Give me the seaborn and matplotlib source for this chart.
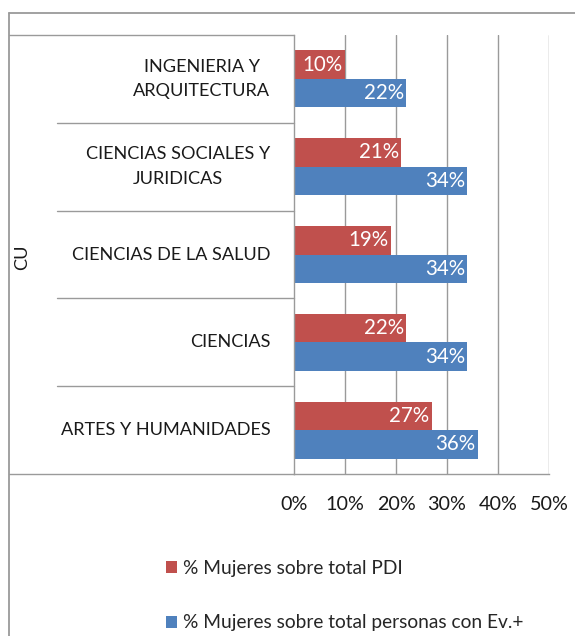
import matplotlib
matplotlib.use("Agg")
import matplotlib.pyplot as plt
import matplotlib.transforms as mtransforms
from matplotlib.patches import Patch
from matplotlib.lines import Line2D
import seaborn as sns
import pandas as pd

# Data
categories = [
    "INGENIERIA Y\nARQUITECTURA",
    "CIENCIAS SOCIALES Y\nJURIDICAS",
    "CIENCIAS DE LA SALUD",
    "CIENCIAS",
    "ARTES Y HUMANIDADES",
]
series_names = ["% Mujeres sobre total PDI", "% Mujeres sobre total personas con Ev.+"]
pct_pdi = [10, 21, 19, 22, 27]
pct_ev = [22, 34, 34, 34, 36]
x_ticks = [0, 10, 20, 30, 40, 50]
axis_title = "CU"

colors = ["#C0504D", "#4F81BD"]
grid_col = "#9A9A9A"
text_col = "#1a1a1a"
fs_cat = 13.1
fs_val = 14.8
fs_tick = 14.2
fs_leg = 13.8

df = pd.DataFrame({
    "cat": categories * 2,
    "serie": [series_names[0]] * len(categories) + [series_names[1]] * len(categories),
    "val": pct_pdi + pct_ev,
})

sns.set_theme(style="white")
plt.rcParams["font.family"] = ["Lato", "DejaVu Sans"]

W, H = 575, 636
fig = plt.figure(figsize=(W / 100, H / 100), dpi=100)
fig.patch.set_facecolor("white")

# plot area in pixel coordinates
x0, x1, y0, y1 = 294, 549, 35, 474
ax = fig.add_axes([x0 / W, 1 - y1 / H, (x1 - x0) / W, (y1 - y0) / H])

sns.barplot(data=df, y="cat", x="val", hue="serie", order=categories,
            hue_order=series_names, palette=colors, width=0.65,
            saturation=1, orient="h", ax=ax, legend=False, linewidth=0)

ax.set_xlim(0, 50)
ax.set_ylim(len(categories) - 0.5, -0.5)
ax.set_xticks(x_ticks)
ax.set_xticklabels([f"{t}%" for t in x_ticks], fontsize=fs_tick, color=text_col)
ax.set_xlabel("")
ax.set_ylabel("")
ax.tick_params(axis="x", direction="out", length=6, width=1, color=grid_col, pad=10)
ax.tick_params(axis="y", length=0, pad=17)
for lab in ax.get_yticklabels():
    lab.set_multialignment("center")
    lab.set_verticalalignment("center")
    lab.set_linespacing(1.65)
    lab.set_fontsize(fs_cat)
    lab.set_color(text_col)

# vertical gridlines
for t in x_ticks[1:]:
    ax.axvline(t, color=grid_col, lw=1, zorder=0)

for side in ["top", "right"]:
    ax.spines[side].set_visible(False)
for side in ["left", "bottom"]:
    ax.spines[side].set_color(grid_col)
    ax.spines[side].set_linewidth(1)

# value labels inside the bar ends
for cont in ax.containers:
    for rect, v in zip(cont.patches, cont.datavalues):
        ax.annotate(f"{v:.0f}%", xy=(v, rect.get_y() + rect.get_height() / 2),
                    xytext=(-1.5, 0), textcoords="offset points",
                    ha="right", va="center", color="white", fontsize=fs_val)

# category separators of the multi-level axis
trans = mtransforms.blended_transform_factory(ax.transAxes, ax.transData)
left_outer = (9 - x0) / (x1 - x0)
left_inner = (57 - x0) / (x1 - x0)
n = len(categories)
for i in range(n + 1):
    yb = i - 0.5
    xl = left_outer if i in (0, n) else left_inner
    ax.add_line(Line2D([xl, 0], [yb, yb], transform=trans, color=grid_col,
                       lw=1, clip_on=False))

# outer-level label
fig.text(22 / W, 1 - 257 / H, axis_title, rotation=90, ha="center", va="center",
         fontsize=fs_cat, color=text_col)

# chart border (top and left edges visible within the figure)
fig.add_artist(Line2D([9 / W, 1.0], [1 - 13 / H, 1 - 13 / H],
                      transform=fig.transFigure, color=grid_col, lw=1.3))
fig.add_artist(Line2D([9 / W, 9 / W], [0.0, 1 - 13 / H],
                      transform=fig.transFigure, color=grid_col, lw=1.3))

handles = [Patch(facecolor=c, edgecolor="none") for c in colors]
fig.legend(handles, series_names, loc="upper left",
           bbox_to_anchor=(166 / W, 1 - 560 / H), frameon=False,
           fontsize=fs_leg, handlelength=0.58, handleheight=0.58,
           handletextpad=0.3, labelspacing=1.95, borderpad=0,
           borderaxespad=0)

fig.savefig("out.png", dpi=100, facecolor="white")
